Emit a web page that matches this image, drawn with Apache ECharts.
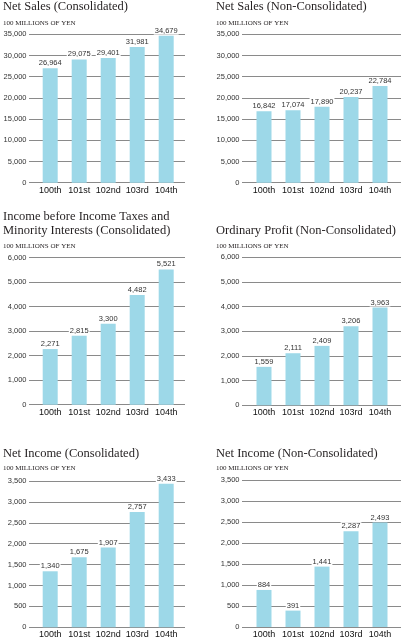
<!DOCTYPE html>
<html>
<head>
<meta charset="utf-8">
<script src="https://cdn.jsdelivr.net/npm/echarts@6/dist/echarts.min.js"></script>
<style>
html,body{margin:0;padding:0;background:#fff;}
#chart{width:403px;height:643px;}
</style>
</head>
<body>
<div id="chart"></div>
<script>
// ---- data ----
const categories = ['100th', '101st', '102nd', '103rd', '104th'];

const netSalesConsolidated = [26964, 29075, 29401, 31981, 34679];
const netSalesNonConsolidated = [16842, 17074, 17890, 20237, 22784];
const incomeBeforeTaxesConsolidated = [2271, 2815, 3300, 4482, 5521];
const ordinaryProfitNonConsolidated = [1559, 2111, 2409, 3206, 3963];
const netIncomeConsolidated = [1340, 1675, 1907, 2757, 3433];
const netIncomeNonConsolidated = [884, 391, 1441, 2287, 2493];

const salesTicks = [0, 5000, 10000, 15000, 20000, 25000, 30000, 35000];
const profitTicks = [0, 1000, 2000, 3000, 4000, 5000, 6000];
const netIncomeTicks = [0, 500, 1000, 1500, 2000, 2500, 3000, 3500];

const titles = [
  'Net Sales (Consolidated)',
  'Net Sales (Non-Consolidated)',
  'Income before Income Taxes and\nMinority Interests (Consolidated)',
  'Ordinary Profit (Non-Consolidated)',
  'Net Income (Consolidated)',
  'Net Income (Non-Consolidated)'
];
const unitLabel = '100 MILLIONS OF YEN';

// ---- layout ----
const cols = [
  { lineL: 29, lineR: 185, bandL: 35.7, bandW: 145, textX: 3 },
  { lineL: 242, lineR: 401, bandL: 249.5, bandW: 145, textX: 216 }
];
const panels = [
  { data: netSalesConsolidated, ticks: salesTicks, col: 0, top: 34.3, zero: 182.7, titleY: 7, subY: 23 },
  { data: netSalesNonConsolidated, ticks: salesTicks, col: 1, top: 34.3, zero: 182.7, titleY: 7, subY: 23 },
  { data: incomeBeforeTaxesConsolidated, ticks: profitTicks, col: 0, top: 257.7, zero: 404.7, titleY: 223.7, subY: 246 },
  { data: ordinaryProfitNonConsolidated, ticks: profitTicks, col: 1, top: 257.3, zero: 405.3, titleY: 231, subY: 245.7 },
  { data: netIncomeConsolidated, ticks: netIncomeTicks, col: 0, top: 481, zero: 627.3, titleY: 453.3, subY: 467.7 },
  { data: netIncomeNonConsolidated, ticks: netIncomeTicks, col: 1, top: 480.3, zero: 627, titleY: 453.3, subY: 467.7 }
];

const fmt = v => Number(v).toLocaleString('en-US');
const BAR = '#9dd8e8';
const GRIDLINE = '#8a8a8a';
const NUMFONT = 'Liberation Sans';
const TITLEFONT = 'Liberation Serif';

const option = {
  backgroundColor: '#fff',
  animation: false,
  title: [], grid: [], xAxis: [], yAxis: [], series: []
};

panels.forEach((p, i) => {
  const c = cols[p.col];
  const lines = titles[i].split('\n').length;
  const lh = 14;
  option.title.push({
    text: titles[i], left: c.textX, top: p.titleY - lh * lines / 2, padding: 0,
    textStyle: { fontFamily: TITLEFONT, fontSize: 12.5, fontWeight: 'normal', color: '#231f20', lineHeight: lh }
  });
  option.title.push({
    text: unitLabel, left: c.textX, top: p.subY - 4, padding: 0,
    textStyle: { fontFamily: TITLEFONT, fontSize: 7, fontWeight: 'normal', color: '#231f20', lineHeight: 8 }
  });
  const h = p.zero - p.top;
  const tmin = p.ticks[0], tmax = p.ticks[p.ticks.length - 1], tint = p.ticks[1] - p.ticks[0];
  // background grid: gridlines + y labels
  const gA = option.grid.length;
  option.grid.push({ left: c.lineL, top: p.top, width: c.lineR - c.lineL, height: h, containLabel: false, outerBoundsMode: 'none' });
  option.xAxis.push({ gridIndex: gA, type: 'category', data: categories, show: false });
  option.yAxis.push({
    gridIndex: gA, type: 'value', min: tmin, max: tmax, interval: tint,
    axisLine: { show: false }, axisTick: { show: false },
    axisLabel: { margin: 2.5, fontFamily: NUMFONT, fontSize: 7.5, color: '#333', formatter: fmt },
    splitLine: { lineStyle: { color: GRIDLINE, width: 1 } }
  });
  // bar grid
  const gB = option.grid.length;
  option.grid.push({ left: c.bandL, top: p.top, width: c.bandW, height: h, containLabel: false, outerBoundsMode: 'none' });
  option.xAxis.push({
    gridIndex: gB, type: 'category', data: categories,
    axisLine: { show: false }, axisTick: { show: false },
    axisLabel: { margin: 3, fontFamily: NUMFONT, fontSize: 9, color: '#111', interval: 0 }
  });
  option.yAxis.push({
    gridIndex: gB, type: 'value', min: tmin, max: tmax, interval: tint, show: false,
    splitLine: { show: false }
  });
  option.series.push({
    type: 'bar', xAxisIndex: option.xAxis.length - 1, yAxisIndex: option.yAxis.length - 1,
    data: p.data, barWidth: 15,
    itemStyle: { color: BAR },
    label: {
      show: true, position: 'top', distance: 1,
      fontFamily: NUMFONT, fontSize: 7.5, color: '#333',
      backgroundColor: '#fff', padding: [0, 1], formatter: d => fmt(d.value)
    }
  });
});

const chart = echarts.init(document.getElementById('chart'));
chart.setOption(option);
</script>
</body>
</html>
